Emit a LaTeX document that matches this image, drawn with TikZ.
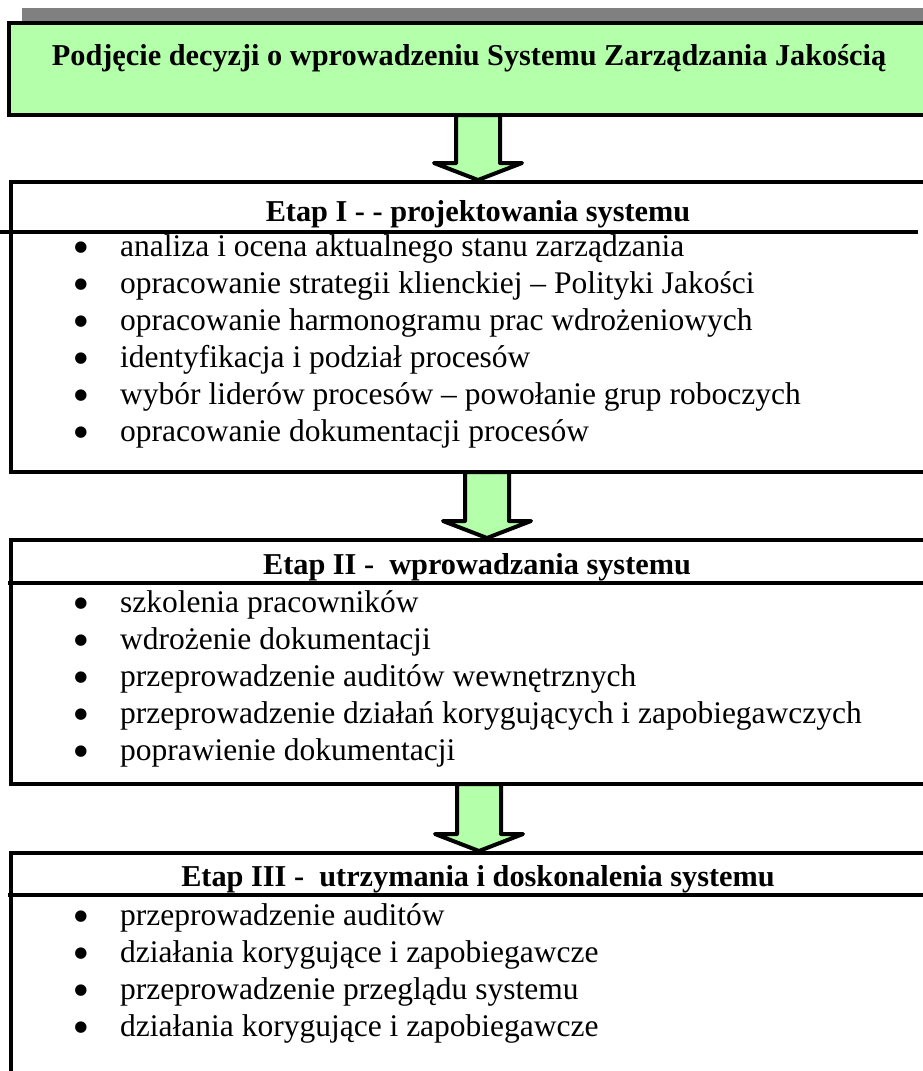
\documentclass[tikz,border=0pt]{standalone}
\usepackage{fontspec}
\setmainfont{Liberation Serif}
\newfontfamily\symfont{DejaVu Sans}
\usepackage{tikz}
\usetikzlibrary{calc}
\usepackage{xcolor}
\definecolor{stepgreen}{RGB}{180,255,170}
\definecolor{shadowgray}{RGB}{128,128,128}

\newcommand{\headfont}{\fontsize{30.3}{36}\selectfont\bfseries}
\newcommand{\itemfont}{\fontsize{31.5}{37}\selectfont}
\newcommand{\bulfont}{\symfont\fontsize{15}{15}\selectfont}

\tikzset{
    etapbox/.style={draw=black, fill=white, line width=3.5pt},
    divline/.style={black, line width=3.5pt},
    headtext/.style={font=\headfont, anchor=base, inner sep=0pt},
    itemtext/.style={font=\itemfont, anchor=base west, inner sep=0pt},
    bultext/.style={font=\bulfont, anchor=center, inner sep=0pt},
    blockarrow/.style={draw=black, fill=stepgreen, line width=4pt, line join=round},
}

% strzalka blokowa od (#1) do (#2)
\newcommand{\blockarrow}[2]{%
    \draw[blockarrow] let \p1=(#1), \p2=(#2) in
        (\x1-22,\y1) -- (\x1-22,\y2+19) -- (\x1-44,\y2+19) -- (\x2,\y2+2)
        -- (\x1+44,\y2+19) -- (\x1+22,\y2+19) -- (\x1+22,\y1) -- cycle;}

\begin{document}
\begin{tikzpicture}[x=1pt, y=-1pt]
        \useasboundingbox (0,0) rectangle (922,1071);

        % --- Decyzja (zielona ramka z cieniem) ---
        \fill[shadowgray] (22,8) rectangle (935,24);
        \draw[fill=stepgreen, line width=3.5pt] (9,23) rectangle (935,115);
        \node[headtext] (title) at (469,65)
            {Podjęcie decyzji o wprowadzeniu Systemu Zarządzania Jakością};

        % --- Etap I ---
        \draw[etapbox] (11,182) rectangle (935,472);
        \draw[divline] (0,232) -- (918,232);
        \node[headtext] (h1) at (478,221) {Etap I - - projektowania systemu};
        \node[itemtext] (i11) at (120,256) {analiza i ocena aktualnego stanu zarządzania};
        \node[itemtext] (i12) at (120,293) {opracowanie strategii klienckiej – Polityki Jakości};
        \node[itemtext] (i13) at (120,330) {opracowanie harmonogramu prac wdrożeniowych};
        \node[itemtext] (i14) at (120,367) {identyfikacja i podział procesów};
        \node[itemtext] (i15) at (120,404) {wybór liderów procesów – powołanie grup roboczych};
        \node[itemtext] (i16) at (120,441) {opracowanie dokumentacji procesów};

        % --- Etap II ---
        \draw[etapbox] (11,540) rectangle (935,784);
        \draw[divline] (8,583) -- (935,583);
        \node[headtext] (h2) at (477,574) {Etap II -\ \ wprowadzania systemu};
        \node[itemtext] (i21) at (120,612) {szkolenia pracowników};
        \node[itemtext] (i22) at (120,649) {wdrożenie dokumentacji};
        \node[itemtext] (i23) at (120,686) {przeprowadzenie auditów wewnętrznych};
        \node[itemtext] (i24) at (120,723) {przeprowadzenie działań korygujących i zapobiegawczych};
        \node[itemtext] (i25) at (120,760) {poprawienie dokumentacji};

        % --- Etap III ---
        \draw[etapbox] (11,853) rectangle (935,1090);
        \draw[divline] (8,895) -- (935,895);
        \node[headtext] (h3) at (478,886) {Etap III -\ \ utrzymania i doskonalenia systemu};
        \node[itemtext] (i31) at (120,925) {przeprowadzenie auditów};
        \node[itemtext] (i32) at (120,962) {działania korygujące i zapobiegawcze};
        \node[itemtext] (i33) at (120,999) {przeprowadzenie przeglądu systemu};
        \node[itemtext] (i34) at (120,1036) {działania korygujące i zapobiegawcze};

        % kropki przed punktami
        \foreach \n in {i11,i12,i13,i14,i15,i16,i21,i22,i23,i24,i25,i31,i32,i33,i34}
            \node[bultext] (b\n) at ($(\n.base west)+(-39,-8.5)$) {●};

        % --- Strzalki miedzy etapami ---
        \coordinate (a1s) at (478,115);
        \coordinate (a1e) at (478,182);
        \coordinate (a2s) at (487,472);
        \coordinate (a2e) at (487,540);
        \coordinate (a3s) at (479,784);
        \coordinate (a3e) at (479,853);
        \blockarrow{a1s}{a1e}
        \blockarrow{a2s}{a2e}
        \blockarrow{a3s}{a3e}
\end{tikzpicture}
\end{document}
